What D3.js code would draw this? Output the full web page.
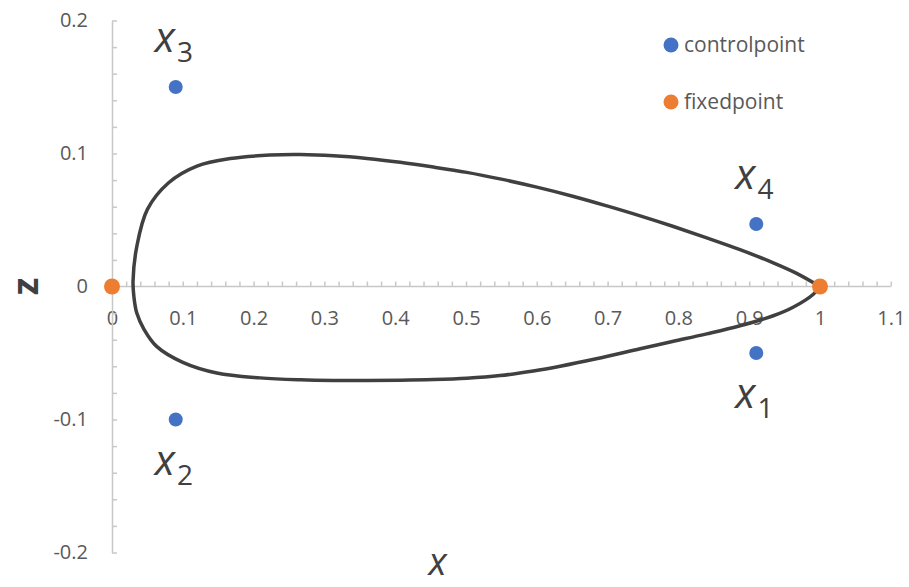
<!DOCTYPE html>
<html>
<head>
<meta charset="utf-8">
<script src="https://cdn.jsdelivr.net/npm/d3@7"></script>
<style>
  body { margin: 0; background: #fff; }
  svg { display: block; font-family: "Open Sans", "Noto Sans", sans-serif; }
</style>
</head>
<body>
<div id="chart"></div>
<script>
// axis ticks
var xTicks = [0, 0.1, 0.2, 0.3, 0.4, 0.5, 0.6, 0.7, 0.8, 0.9, 1, 1.1];
var xTickLabels = ["0", "0.1", "0.2", "0.3", "0.4", "0.5", "0.6", "0.7", "0.8", "0.9", "1", "1.1"];
var zTicks = [0.2, 0.1, 0, -0.1, -0.2];
var zTickLabels = ["0.2", "0.1", "0", "-0.1", "-0.2"];

// control points x1..x4
var controlNames = ["1", "2", "3", "4"];
var controlX = [0.91, 0.09, 0.09, 0.91];
var controlZ = [-0.05, -0.1, 0.15, 0.047];

// fixed points
var fixedX = [0, 1];
var fixedZ = [0, 0];

// profile curve (top side going left, then bottom side going right)
var curveX = [1.0, 0.967, 0.934, 0.887, 0.840, 0.793, 0.746, 0.699, 0.652, 0.60, 0.548, 0.501, 0.454, 0.407,
  0.36, 0.313, 0.266, 0.223, 0.167, 0.12, 0.08, 0.05, 0.035, 0.0297, 0.031, 0.035, 0.045, 0.063, 0.10,
  0.148, 0.209, 0.266, 0.313, 0.36, 0.407, 0.454, 0.501, 0.548, 0.595, 0.633, 0.684, 0.746, 0.793, 0.840,
  0.887, 0.934, 0.962, 0.9906, 1.0];
var curveZ = [0, 0.0099, 0.0178, 0.0277, 0.0366, 0.0451, 0.0531, 0.0606, 0.0677, 0.0747, 0.0809, 0.0858, 0.0898, 0.0934,
  0.0963, 0.0983, 0.0992, 0.0988, 0.0962, 0.0905, 0.078, 0.058, 0.030, 0.004, -0.008, -0.020, -0.032, -0.045, -0.057,
  -0.065, -0.0687, -0.0702, -0.0707, -0.0707, -0.0705, -0.070, -0.069, -0.067, -0.0635, -0.0599, -0.0543, -0.0468, -0.0412, -0.0356,
  -0.0295, -0.0220, -0.0156, -0.0058, 0];

var legendNames = ["controlpoint", "fixedpoint"];

var width = 909, height = 587;
var blue = "#4472C4", orange = "#ED7D31", dark = "#404040", grey = "#595959", axisCol = "#C8C8C8";
var font = '"Open Sans", "Noto Sans", sans-serif';

var svg = d3.select("#chart").append("svg")
  .attr("width", width)
  .attr("height", height);

var x = d3.scaleLinear().domain([0, 1]).range([112, 820]);
var z = d3.scaleLinear().domain([-0.2, 0.2]).range([552.5, 20.5]);

var minorX = d3.range(0, 56).map(function (i) { return i * 0.02; });
var minorZ = d3.range(-10, 11).map(function (i) { return i * 0.02; });

// x axis at z = 0, ticks pointing up
var xAxisTicks = svg.append("g")
  .attr("transform", "translate(0," + z(0) + ")")
  .call(d3.axisTop(x).tickValues(minorX).tickSize(5).tickSizeOuter(0).tickFormat(""));
xAxisTicks.select(".domain").attr("d", "M" + x(0) + ",0H" + x(1.1));
xAxisTicks.selectAll("line, path").attr("stroke", axisCol).attr("stroke-width", 1.5);

var xAxisLabels = svg.append("g")
  .attr("transform", "translate(0," + z(0) + ")")
  .call(d3.axisBottom(x).tickValues(xTicks).tickSize(0).tickPadding(24)
    .tickFormat(function (d, i) { return xTickLabels[i]; }));
xAxisLabels.attr("font-family", font).attr("font-size", 20);
xAxisLabels.select(".domain").remove();
xAxisLabels.selectAll("text").attr("fill", grey);

// z axis at x = 0, ticks pointing right
var zAxisTicks = svg.append("g")
  .attr("transform", "translate(" + x(0) + ",0)")
  .call(d3.axisRight(z).tickValues(minorZ).tickSize(5).tickSizeOuter(0).tickFormat(""));
zAxisTicks.selectAll("line, path").attr("stroke", axisCol).attr("stroke-width", 1.5);

var zAxisLabels = svg.append("g")
  .attr("transform", "translate(" + x(0) + ",0)")
  .call(d3.axisLeft(z).tickValues(zTicks).tickSize(0).tickPadding(24)
    .tickFormat(function (d, i) { return zTickLabels[i]; }));
zAxisLabels.attr("font-family", font).attr("font-size", 20);
zAxisLabels.select(".domain").remove();
zAxisLabels.selectAll("text").attr("fill", grey);

// axis titles
svg.append("text")
  .attr("transform", "translate(" + 38 + "," + z(0) + ") rotate(-90)")
  .attr("text-anchor", "middle")
  .attr("fill", dark)
  .style("font-size", "36px")
  .style("font-weight", "bold")
  .text("z");

svg.append("text")
  .attr("x", x(0.46))
  .attr("y", 575)
  .attr("text-anchor", "middle")
  .attr("fill", dark)
  .style("font-size", "38px")
  .style("font-style", "italic")
  .text("x");

// profile curve
var line = d3.line()
  .x(function (d, i) { return x(curveX[i]); })
  .y(function (d, i) { return z(curveZ[i]); })
  .curve(d3.curveCatmullRom.alpha(0.5));

svg.append("path")
  .datum(curveX)
  .attr("d", line)
  .attr("fill", "none")
  .attr("stroke", dark)
  .attr("stroke-width", 3.5);

// control points
svg.selectAll(".ctrl")
  .data(controlX)
  .enter()
  .append("circle")
  .attr("class", "ctrl")
  .attr("cx", function (d) { return x(d); })
  .attr("cy", function (d, i) { return z(controlZ[i]); })
  .attr("r", 7)
  .attr("fill", blue);

// fixed points
svg.selectAll(".fixed")
  .data(fixedX)
  .enter()
  .append("circle")
  .attr("class", "fixed")
  .attr("cx", function (d) { return x(d); })
  .attr("cy", function (d, i) { return z(fixedZ[i]); })
  .attr("r", 8)
  .attr("fill", orange);

// point labels: above the point when z > 0, below when z < 0
var labels = svg.selectAll(".plabel")
  .data(controlX)
  .enter()
  .append("text")
  .attr("class", "plabel")
  .attr("x", function (d) { return x(d) - 21; })
  .attr("y", function (d, i) { return z(controlZ[i]) + (controlZ[i] > 0 ? -35 : 55); })
  .attr("fill", dark);
labels.append("tspan")
  .style("font-size", "42px")
  .style("font-style", "italic")
  .text("x");
labels.append("tspan")
  .attr("dy", 10)
  .attr("dx", 2)
  .style("font-size", "28px")
  .text(function (d, i) { return controlNames[i]; });

// legend
var legend = svg.selectAll(".legend")
  .data(legendNames)
  .enter()
  .append("g")
  .attr("class", "legend")
  .attr("transform", function (d, i) { return "translate(671," + (45 + i * 57) + ")"; });
legend.append("circle")
  .attr("r", 7.5)
  .attr("fill", function (d, i) { return i === 0 ? blue : orange; });
legend.append("text")
  .attr("x", 13)
  .attr("dy", "0.35em")
  .attr("fill", grey)
  .style("font-size", "21px")
  .text(function (d) { return d; });
</script>
</body>
</html>
